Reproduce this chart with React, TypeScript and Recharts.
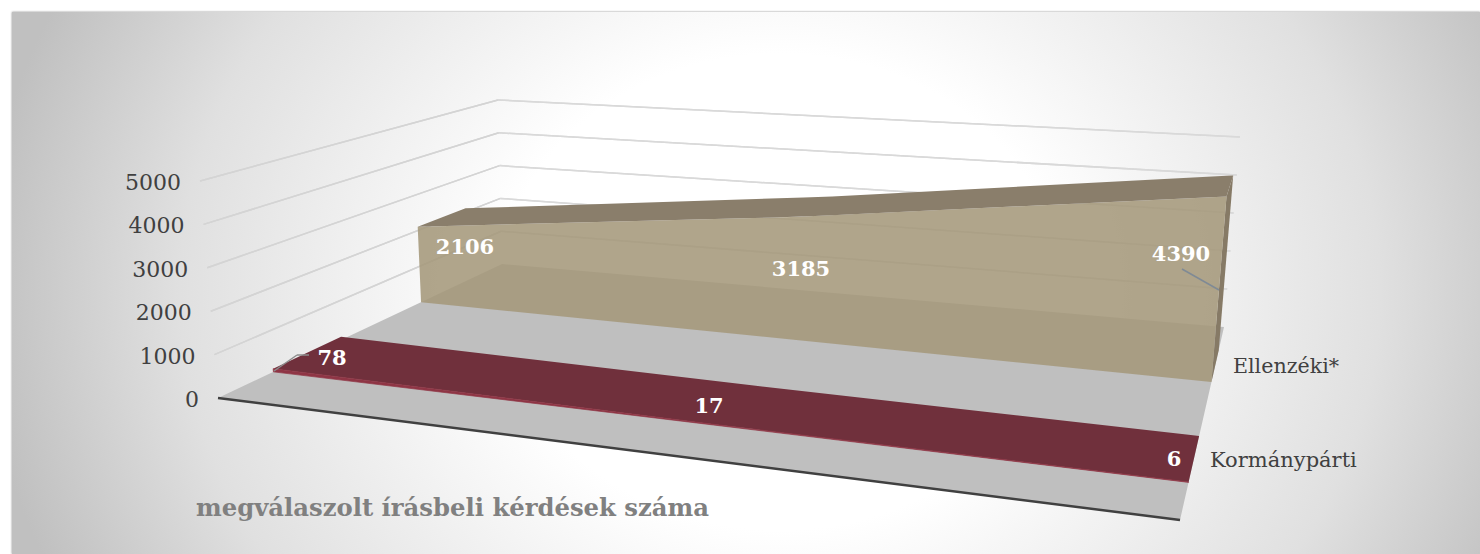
import { Area, ComposedChart, ReferenceDot, ReferenceLine, XAxis, YAxis } from 'recharts';

// chart values
const depthSeries = ['Kormánypárti', 'Ellenzéki*'];
const kormanyparti = [78, 17, 6];
const ellenzeki = [2106, 3185, 4390];
const categorySpots = [0, 0.5, 1];
const valueTicks = [0, 1000, 2000, 3000, 4000, 5000];

const W = 1480;
const H = 554;
const PLOT_LEFT = 196;
const SERIF = '"DejaVu Serif", serif';

// corners of the 3D box on screen, floor and the 5000 level
type Pt = [number, number];
const FLOOR: Pt[] = [[218, 398], [1180, 520], [1224, 327], [502, 264]];
const ROOF: Pt[] = [[200, 181], [1200, 255], [1240, 137], [498, 100]];
const PX_PER_VALUE = 0.0434;
const toAxisY = (py: number) => (398 - py) / PX_PER_VALUE;

const mix = (a: Pt, b: Pt, t: number): Pt => [a[0] + (b[0] - a[0]) * t, a[1] + (b[1] - a[1]) * t];
const foreshorten = (u: number) => u / (u + 1.08 * (1 - u));

function corner(box: Pt[], u: number, z: number): Pt {
    const s = foreshorten(u);
    return mix(mix(box[0], box[1], s), mix(box[3], box[2], s), z);
}

// u along the categories, z into the depth, v the value
function project(u: number, z: number, v: number): Pt {
    return mix(corner(FLOOR, u, z), corner(ROOF, u, z), v / 5000);
}

// a screen polygon as rows for a range Area
function polygonBand(verts: Pt[]) {
    const xs = [...new Set(verts.map(p => p[0]))].sort((a, b) => a - b);
    return xs.map(x => {
        const ys: number[] = [];
        verts.forEach((a, i) => {
            const b = verts[(i + 1) % verts.length];
            if (a[0] === b[0]) {
                if (a[0] === x) ys.push(a[1], b[1]);
            } else if (x >= Math.min(a[0], b[0]) && x <= Math.max(a[0], b[0])) {
                ys.push(a[1] + ((x - a[0]) / (b[0] - a[0])) * (b[1] - a[1]));
            }
        });
        return { x, band: [toAxisY(Math.max(...ys)), toAxisY(Math.min(...ys))] };
    });
}

function ribbonFaces(values: number[], front: number, back: number) {
    const frontTop = values.map((v, i) => project(categorySpots[i], front, v));
    const backTop = values.map((v, i) => project(categorySpots[i], back, v));
    const frontBase = values.map((_, i) => project(categorySpots[i], front, 0));
    const last = values.length - 1;
    return {
        front: polygonBand([...frontTop, ...[...frontBase].reverse()]),
        top: polygonBand([...frontTop, ...[...backTop].reverse()]),
        side: polygonBand([frontBase[last], project(1, back, 0), backTop[last], frontTop[last]]),
    };
}

const red = ribbonFaces(kormanyparti, 0.195, 0.434);
const tan = ribbonFaces(ellenzeki, 0.715, 0.88);
const floor = polygonBand(FLOOR);

// a wall line as a zero-height range Area, so it paints under the faces
const wallLine = (a: Pt, b: Pt) => [
    { x: a[0], band: [toAxisY(a[1]), toAxisY(a[1])] },
    { x: b[0], band: [toAxisY(b[1]), toAxisY(b[1])] },
];

const segment = (a: Pt, b: Pt) => [
    { x: a[0], y: toAxisY(a[1]) },
    { x: b[0], y: toAxisY(b[1]) },
];

const dataLabels: { value: number; at: Pt }[] = [
    { value: ellenzeki[0], at: [465, 247] },
    { value: ellenzeki[1], at: [801, 269] },
    { value: ellenzeki[2], at: [1181, 254] },
    { value: kormanyparti[0], at: [332, 358] },
    { value: kormanyparti[1], at: [709, 406] },
    { value: kormanyparti[2], at: [1174, 459] },
];

const ValueTick = (props: any) => {
    const v = props.payload.value;
    return (
        <text x={project(0, 0, v)[0] - 19} y={props.y + 9} textAnchor="end" fontFamily={SERIF} fontSize={22} fill="#404040">
            {v}
        </text>
    );
};

export default function App() {
    return (
        <div style={{ position: 'absolute', left: 0, top: 0, width: W, height: H, overflow: 'hidden', background: '#fff' }}>
            <div
                style={{
                    position: 'absolute',
                    left: 12,
                    top: 12,
                    width: W - 12,
                    height: H - 12,
                    background: 'radial-gradient(ellipse 800px 680px at 768px 280px, #ffffff 35%, #e0e0e0 75%, #c0c0c0 100%)',
                    boxShadow: '0 0 2px #888',
                }}
            />
            <ComposedChart
                width={W}
                height={H}
                margin={{ top: 0, right: 0, bottom: 0, left: 0 }}
                style={{ position: 'absolute', left: 0, top: 0 }}
            >
                <XAxis type="number" dataKey="x" domain={[PLOT_LEFT, W]} hide />
                <YAxis
                    type="number"
                    width={PLOT_LEFT}
                    domain={[toAxisY(H), toAxisY(0)]}
                    ticks={valueTicks}
                    interval={0}
                    axisLine={false}
                    tickLine={false}
                    tick={ValueTick}
                />

                {valueTicks.slice(1).map(v => (
                    <Area
                        key={'side' + v}
                        data={wallLine(project(0, 0, v), project(0, 1, v))}
                        dataKey="band"
                        type="linear"
                        fill="none"
                        stroke="#d4d4d4"
                        strokeWidth={1.5}
                        isAnimationActive={false}
                    />
                ))}
                {valueTicks.slice(1).map(v => (
                    <Area
                        key={'back' + v}
                        data={wallLine(project(0, 1, v), project(1, 1, v))}
                        dataKey="band"
                        type="linear"
                        fill="none"
                        stroke="#d9d9d9"
                        strokeWidth={1.5}
                        isAnimationActive={false}
                    />
                ))}

                <Area data={floor} dataKey="band" type="linear" fill="#bfbfbf" fillOpacity={1} stroke="none" isAnimationActive={false} />

                <Area data={tan.side} dataKey="band" type="linear" fill="#867a66" fillOpacity={1} stroke="none" isAnimationActive={false} />
                <Area data={tan.front} name={depthSeries[1]} dataKey="band" type="linear" fill="#a5987a" fillOpacity={0.875} stroke="none" isAnimationActive={false} />
                <Area data={tan.top} dataKey="band" type="linear" fill="#8a7e6b" fillOpacity={1} stroke="none" isAnimationActive={false} />

                <Area data={red.top} dataKey="band" type="linear" fill="#70303c" fillOpacity={1} stroke="none" isAnimationActive={false} />
                <Area data={red.front} name={depthSeries[0]} dataKey="band" type="linear" fill="#8f3545" fillOpacity={1} stroke="#8f3545" strokeWidth={0.7} isAnimationActive={false} />

                <ReferenceLine segment={segment(project(0, 0, 0), project(1, 0, 0))} stroke="#404040" strokeWidth={2.5} />

                <ReferenceLine segment={segment([1182, 269], [1219, 290])} stroke="#7f8a95" strokeWidth={1.5} />
                <ReferenceLine segment={segment([274, 371], [297, 355])} stroke="#8c8c8c" strokeWidth={1.5} />
                <ReferenceLine segment={segment([297, 355], [309, 355])} stroke="#8c8c8c" strokeWidth={1.5} />

                {dataLabels.map(l => (
                    <ReferenceDot
                        key={l.value}
                        x={l.at[0]}
                        y={toAxisY(l.at[1])}
                        r={0}
                        fill="none"
                        stroke="none"
                        label={{
                            value: l.value,
                            position: 'center',
                            fill: '#ffffff',
                            fontFamily: SERIF,
                            fontWeight: 700,
                            fontSize: 21,
                        }}
                    />
                ))}

                <text x={1233} y={373} fontFamily={SERIF} fontSize={20.6} fill="#404040">{depthSeries[1]}</text>
                <text x={1210} y={467} fontFamily={SERIF} fontSize={21} fill="#404040">{depthSeries[0]}</text>
                <text x={196} y={516} fontFamily={SERIF} fontSize={24.3} fontWeight={700} fill="#808080">
                    megválaszolt írásbeli kérdések száma
                </text>
            </ComposedChart>
        </div>
    );
}
